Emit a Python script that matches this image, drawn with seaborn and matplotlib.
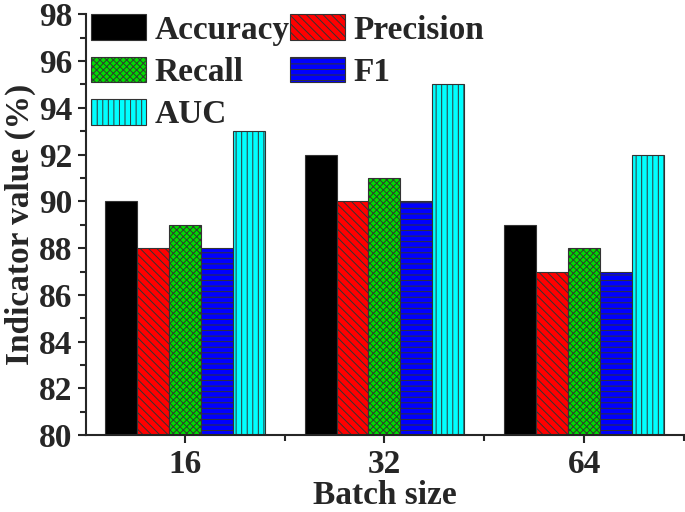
import numpy as np
import pandas as pd
import matplotlib
matplotlib.use('Agg')
import matplotlib.pyplot as plt
from matplotlib.patches import Patch
from matplotlib.ticker import MultipleLocator
import seaborn as sns

batch_sizes = ['16', '32', '64']
metrics = ['Accuracy', 'Precision', 'Recall', 'F1', 'AUC']
accuracy = [90, 92, 89]
precision = [88, 90, 87]
recall = [89, 91, 88]
f1 = [88, 90, 87]
auc = [93, 95, 92]

colors = ['#000000', '#ff0000', '#00dd00', '#0000ff', '#00ffff']
hatches = ['', '\\\\\\\\', 'xxxxx', '---', '|||']

values = [accuracy, precision, recall, f1, auc]
df = pd.DataFrame([
    {'Batch size': b, 'Metric': m, 'Value': v}
    for m, vals in zip(metrics, values)
    for b, v in zip(batch_sizes, vals)
])

sns.set_style('ticks')
plt.rcParams['font.family'] = ['Liberation Serif', 'DejaVu Serif']
plt.rcParams['font.weight'] = 'bold'
plt.rcParams['hatch.linewidth'] = 0.7

fig = plt.figure(figsize=(6.85, 5.12), dpi=100)
ax = fig.add_axes([0.1255, 0.150, 0.873, 0.822])

sns.barplot(data=df, x='Batch size', y='Value', hue='Metric', order=batch_sizes,
            hue_order=metrics, palette=colors, width=0.8, saturation=1,
            legend=False, ax=ax, edgecolor='#333333', linewidth=0.8)

handles = {}
for cont, hatch, color, name in zip(ax.containers, hatches, colors, metrics):
    for bar in cont:
        bar.set_hatch(hatch)
    handles[name] = Patch(facecolor=color, edgecolor='#333333', hatch=hatch,
                          linewidth=0.8, label=name)

ax.set_ylim(80, 98)
ax.set_xlim(-0.495, 2.5)
ax.yaxis.set_major_locator(MultipleLocator(2))
ax.yaxis.set_minor_locator(MultipleLocator(1))
ax.set_xticks([0, 1, 2])
ax.set_xticks([0.5, 1.5, 2.5], minor=True)
ax.tick_params(axis='both', which='major', labelsize=24, length=6, width=1.5, pad=4)
ax.tick_params(axis='both', which='minor', length=4, width=1.5)
for lab in ax.get_xticklabels() + ax.get_yticklabels():
    lab.set_fontweight('bold')

ax.set_xlabel('Batch size', fontsize=24, fontweight='bold', labelpad=0)
ax.set_ylabel('Indicator value (%)', fontsize=24, fontweight='bold', labelpad=2)

sns.despine(ax=ax, top=True, right=True)
ax.spines['left'].set_linewidth(1.5)
ax.spines['bottom'].set_linewidth(1.5)

# legend filled row by row, as in the original
order = ['Accuracy', 'Recall', 'AUC', 'Precision', 'F1']
ax.legend(handles=[handles[k] for k in order], ncol=2, loc='upper left', frameon=False,
          prop={'size': 24, 'weight': 'bold'}, handlelength=1.65, handleheight=0.8,
          handletextpad=0.27, columnspacing=0.0, labelspacing=0.33,
          borderaxespad=0.0, borderpad=0.0, bbox_to_anchor=(0.008, 1.0))

fig.savefig('out.png', dpi=100)
